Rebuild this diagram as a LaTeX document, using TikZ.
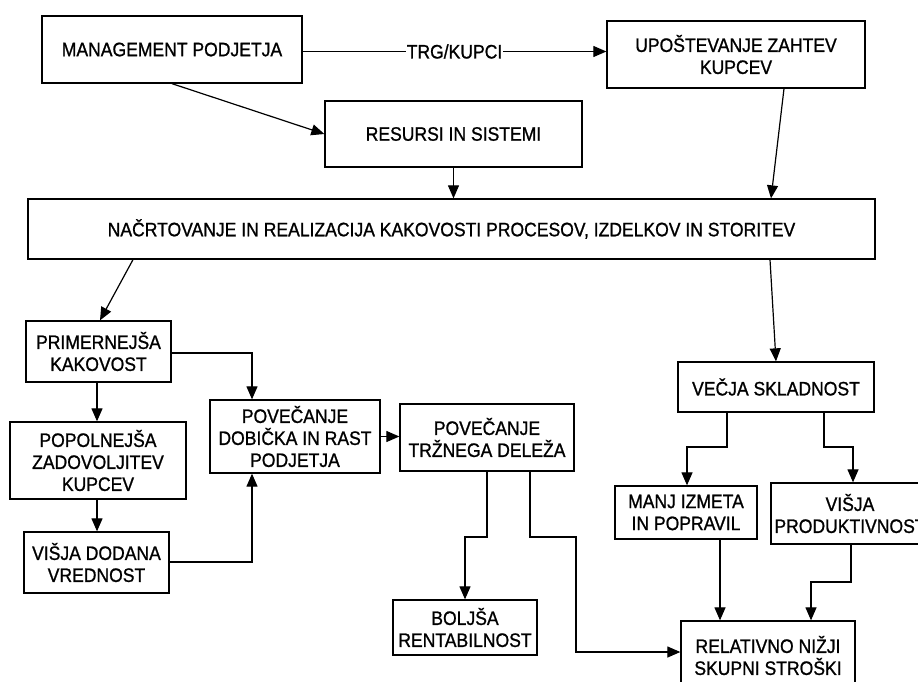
\documentclass[tikz,border=0pt]{standalone}
\usepackage{fontspec}
\setmainfont{Liberation Sans}[FakeStretch=0.9, FakeBold=1]
\usetikzlibrary{arrows.meta}
\tikzset{
  txt/.style={font=\fontsize{19.5}{22}\selectfont},
  box/.style={draw, line width=1.3pt, align=center, inner sep=0pt, txt},
  arr/.style={line width=1.2pt, -{Triangle[length=13pt,width=11pt]}},
  con/.style={line width=1.2pt}
}
\begin{document}
\begin{tikzpicture}[x=1pt,y=-1pt]
\useasboundingbox[fill=white] (0,0) rectangle (918,681);
\node[box, minimum width=260pt, minimum height=67pt] (mgmt) at (172,49.5) {MANAGEMENT PODJETJA};
\node[box, minimum width=258pt, minimum height=67pt] (upo) at (736,54.5) {UPOŠTEVANJE ZAHTEV\\KUPCEV};
\node[box, minimum width=257pt, minimum height=66pt] (res) at (453.5,134) {RESURSI IN SISTEMI};
\node[box, minimum width=847pt, minimum height=60pt] (big) at (451.5,229) {NAČRTOVANJE IN REALIZACIJA KAKOVOSTI PROCESOV, IZDELKOV IN STORITEV};
\node[box, minimum width=145pt, minimum height=61pt] (prim) at (98.5,351.5) {PRIMERNEJŠA\\KAKOVOST};
\node[box, minimum width=170pt, minimum height=73pt] (pdob) at (295,436.5) {POVEČANJE\\DOBIČKA IN RAST\\PODJETJA};
\node[box, minimum width=176pt, minimum height=77pt] (popol) at (98,460.5) {POPOLNEJŠA\\ZADOVOLJITEV\\KUPCEV};
\node[box, minimum width=145pt, minimum height=61pt] (visdod) at (96.5,562.5) {VIŠJA DODANA\\VREDNOST};
\node[box, minimum width=174pt, minimum height=67pt] (trz) at (487,437.5) {POVEČANJE\\TRŽNEGA DELEŽA};
\node[box, minimum width=144pt, minimum height=55pt] (bolj) at (465,627.5) {BOLJŠA\\RENTABILNOST};
\node[box, minimum width=174pt, minimum height=69pt] (rel) at (768,655.5) {RELATIVNO NIŽJI\\SKUPNI STROŠKI};
\node[box, minimum width=196pt, minimum height=50pt] (vecja) at (776,387) {VEČJA SKLADNOST};
\node[box, minimum width=142pt, minimum height=53pt] (manj) at (686,512.5) {MANJ IZMETA\\IN POPRAVIL};
\node[box, minimum width=158pt, minimum height=61pt] (visprod) at (850,513.5) {VIŠJA\\PRODUKTIVNOST};

\draw[arr] ([yshift=-2pt]mgmt.east) -- node[fill=white, inner xsep=1pt, inner ysep=2pt, txt]{TRG/KUPCI} ([yshift=-2pt]mgmt.east -| upo.west);
\draw[arr] (mgmt.south) -- (res.west);
\draw[arr] (res.south) -- (res.south |- big.north);
\draw[arr] (784,0 |- upo.south) -- (771,0 |- big.north);
\draw[arr] (133,0 |- big.south) -- (100,0 |- prim.north);
\draw[arr] (770,0 |- big.south) -- (776,0 |- vecja.north);
\draw[arr] (prim.east |- 0,353) -- (252,353) -- (252,0 |- pdob.north);
\draw[arr] (97,0 |- prim.south) -- (97,0 |- popol.north);
\draw[arr] (97,0 |- popol.south) -- (97,0 |- visdod.north);
\draw[arr] (visdod.east |- 0,562) -- (252,562) -- (252,0 |- pdob.south);
\draw[arr] (pdob.east) -- (pdob.east -| trz.west);
\draw[arr] (487,0 |- trz.south) -- (487,537) -- (465,537) -- (465,0 |- bolj.north);
\draw[arr] (530,0 |- trz.south) -- (530,537) -- (576,537) -- (576,652) -- (rel.west |- 0,652);
\draw[arr] (727,0 |- vecja.south) -- (727,447) -- (687,447) -- (687,0 |- manj.north);
\draw[arr] (824,0 |- vecja.south) -- (824,447) -- (853,447) -- (853,0 |- visprod.north);
\draw[arr] (720,0 |- manj.south) -- (720,0 |- rel.north);
\draw[arr] (851,0 |- visprod.south) -- (851,582) -- (811,582) -- (811,0 |- rel.north);
\end{tikzpicture}
\end{document}
